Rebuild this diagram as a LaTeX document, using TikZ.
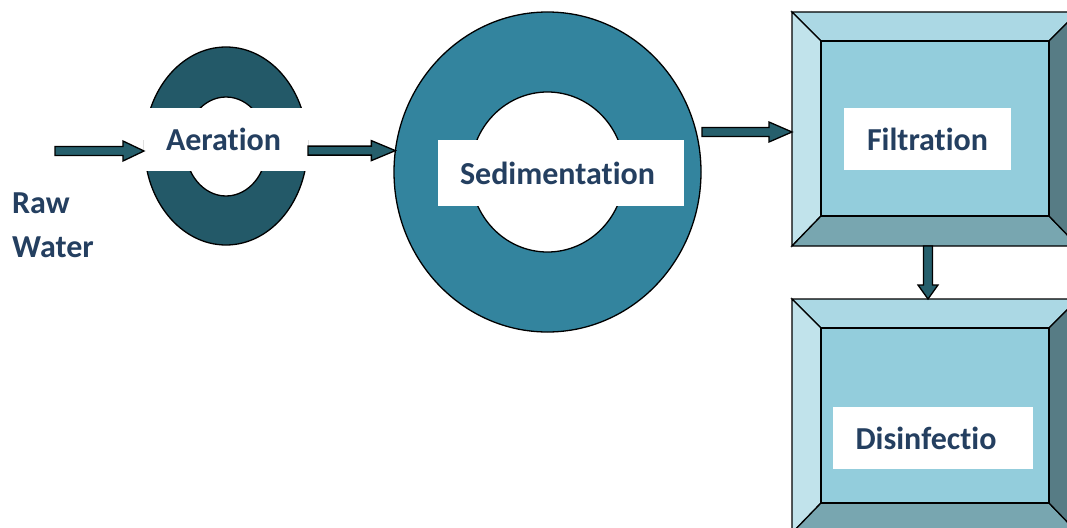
\documentclass[tikz,border=0pt]{standalone}
\usepackage{fontspec}
\setmainfont{Carlito}[Ligatures=NoCommon]
\usetikzlibrary{calc,shapes.geometric}
\definecolor{aerc}{HTML}{235968}
\definecolor{sedc}{HTML}{33849E}
\definecolor{arrc}{HTML}{265F6C}
\definecolor{txtc}{HTML}{243F60}
\definecolor{bvtop}{HTML}{ABD8E4}
\definecolor{bvleft}{HTML}{C1E3EB}
\definecolor{bvin}{HTML}{93CDDC}
\definecolor{bvbot}{HTML}{78A6B0}
\definecolor{bvright}{HTML}{577C85}
\begin{document}
\begin{tikzpicture}[x=1pt,y=-1pt,
  outl/.style={draw=black,line width=1.3pt,line join=miter},
  ring/.style={ellipse,outl,inner sep=0,outer sep=0},
  lbl/.style={rectangle,fill=white,inner sep=0,outer sep=0,text=txtc,font=\fontsize{32}{38}\selectfont\bfseries},
  framebox/.style={rectangle,inner sep=0,outer sep=0},
  flow/.style={draw=black,line width=1.3pt,fill=arrc,line join=miter,
    /utils/exec={\def\fhl{#1}},
    to path={let \p1=($(\tikztotarget)-(\tikztostart)$), \n1={veclen(\x1,\y1)}, \n2={atan2(\y1,\x1)}, \n3={\n1-\fhl} in
      ([shift={(\tikztostart)},rotate=\n2]0,4.5) -- ([shift={(\tikztostart)},rotate=\n2]\n3,4.5) -- ([shift={(\tikztostart)},rotate=\n2]\n3,10) -- (\tikztotarget) -- ([shift={(\tikztostart)},rotate=\n2]\n3,-10) -- ([shift={(\tikztostart)},rotate=\n2]\n3,-4.5) -- ([shift={(\tikztostart)},rotate=\n2]0,-4.5) -- cycle}},
  flow/.default=22]
\useasboundingbox (0,0) rectangle (1067,527);
\clip (0,0) rectangle (1067,527);
\fill[white] (0,0) rectangle (1067,527);

% Aeration ring
\node[ring,fill=aerc,minimum width=163pt,minimum height=198pt] (aero) at (226,146) {};
\node[ring,fill=white,minimum width=82pt,minimum height=99pt] (aeri) at (226,146.5) {};
\node[lbl,minimum width=164pt,minimum height=63pt] (aerl) at (226,139.5) {\hspace*{-5pt}Aeration};

% Sedimentation ring
\node[ring,fill=sedc,minimum width=307pt,minimum height=320pt] (sedo) at (547.5,172) {};
\node[ring,fill=white,minimum width=154pt,minimum height=160pt] (sedi) at (547.5,172) {};
\node[lbl,minimum width=246pt,minimum height=66pt] (sedl) at (561,173) {\hspace*{-7pt}Sedimentation};

% Bevelled frames
\node[framebox,minimum width=286pt,minimum height=234pt] (filt-o) at (935,129) {};
\node[framebox,minimum width=228pt,minimum height=175pt] (filt-i) at (935,128.5) {};
\node[framebox,minimum width=286pt,minimum height=234pt] (dis-o) at (935,416) {};
\node[framebox,minimum width=228pt,minimum height=175pt] (dis-i) at (935,415.5) {};
\foreach \b in {filt,dis}{
  \draw[outl,fill=bvtop] (\b-o.north west) -- (\b-o.north east) -- (\b-i.north east) -- (\b-i.north west) -- cycle;
  \draw[outl,fill=bvleft] (\b-o.north west) -- (\b-i.north west) -- (\b-i.south west) -- (\b-o.south west) -- cycle;
  \draw[outl,fill=bvbot] (\b-o.south west) -- (\b-i.south west) -- (\b-i.south east) -- (\b-o.south east) -- cycle;
  \draw[outl,fill=bvright] (\b-o.north east) -- (\b-o.south east) -- (\b-i.south east) -- (\b-i.north east) -- cycle;
  \draw[outl,fill=bvin] (\b-i.north west) rectangle (\b-i.south east);
}
\node[lbl,minimum width=167pt,minimum height=62pt] (filtl) at (927.5,139) {Filtration};
\node[lbl,minimum width=200pt,minimum height=62pt] (disl) at (933,438) {\hspace*{-14pt}Disinfectio};

% Raw water label
\node[anchor=north west,inner sep=0,align=left,text=txtc,font=\fontsize{32}{44}\selectfont\bfseries] (raw) at (12,193) {Raw\\Water};

% Flow arrows
\coordinate (a0) at (55,151);
\coordinate (a1) at (aerl.west |- a0);
\draw[flow=21] (a0) to (a1);
\coordinate (b1) at (sedo.172.2);
\coordinate (b0) at (aerl.east |- b1);
\draw[flow=24] (b0) to (b1);
\coordinate (c0) at (702,132);
\coordinate (c1) at (filt-o.west |- c0);
\draw[flow=23] (c0) to (c1);
\coordinate (d0) at (928,0);
\coordinate (d1) at (d0 |- filt-o.south);
\coordinate (d2) at (d0 |- dis-o.north);
\draw[flow=14] (d1) to (d2);
\end{tikzpicture}
\end{document}
